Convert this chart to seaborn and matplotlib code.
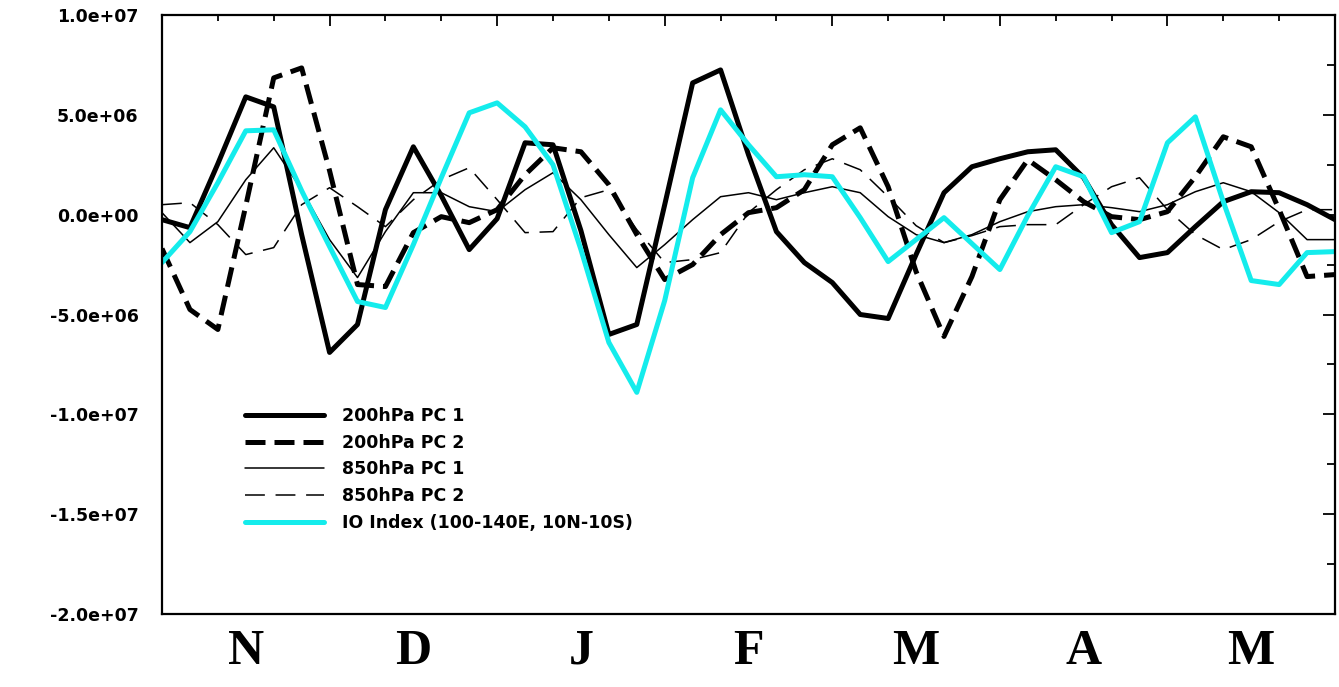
import numpy as np
import pandas as pd
import seaborn as sns
import matplotlib.pyplot as plt
from matplotlib.ticker import FuncFormatter, MultipleLocator
import matplotlib.transforms as mtransforms

# pentad index (6 per month, Nov -> May)
pentad = np.arange(43)
months = ["N", "D", "J", "F", "M", "A", "M"]

# values in units of 1e6
pc1_200 = [-0.25, -0.65, 2.55, 5.9, 5.4, -1.0, -6.9, -5.5, 0.25, 3.4, 0.95, -1.75, -0.2,
           3.6, 3.5, -0.8, -6.0, -5.5, 0.5, 6.6, 7.25, 3.0, -0.85, -2.4, -3.4, -5.0, -5.2,
           -2.0, 1.1, 2.4, 2.8, 3.15, 3.25, 1.85, -0.5, -2.15, -1.9, -0.6, 0.65, 1.15, 1.1,
           0.5, -0.25]
pc2_200 = [-1.7, -4.75, -5.75, 0.45, 6.85, 7.35, 2.2, -3.5, -3.6, -0.9, -0.1, -0.4, 0.25,
           2.0, 3.35, 3.15, 1.5, -1.0, -3.25, -2.5, -1.0, 0.1, 0.35, 1.25, 3.5, 4.35, 1.4,
           -2.85, -6.1, -3.1, 0.75, 2.75, 1.75, 0.65, -0.1, -0.25, 0.15, 1.9, 3.9, 3.4, 0.25,
           -3.1, -3.0]
pc1_850 = [0.1, -1.4, -0.35, 1.75, 3.35, 1.25, -1.25, -3.15, -0.85, 1.1, 1.1, 0.4, 0.15,
           1.25, 2.1, 0.75, -1.0, -2.65, -1.5, -0.25, 0.9, 1.1, 0.75, 1.1, 1.4, 1.1, -0.1,
           -1.0, -1.4, -1.0, -0.35, 0.15, 0.4, 0.5, 0.35, 0.15, 0.5, 1.15, 1.6, 1.15, 0.1,
           -1.25, -1.25]
pc2_850 = [0.5, 0.6, -0.5, -2.0, -1.65, 0.5, 1.35, 0.4, -0.6, 0.75, 1.75, 2.35, 0.75,
           -0.9, -0.85, 0.85, 1.25, -0.75, -2.4, -2.25, -1.9, 0.1, 1.25, 2.25, 2.8, 2.25, 0.9,
           -0.55, -1.4, -1.05, -0.6, -0.5, -0.5, 0.5, 1.4, 1.85, 0.25, -1.0, -1.75, -1.25,
           -0.35, 0.25, 0.25]
io_index = [-2.4, -0.85, 1.6, 4.2, 4.25, 1.2, -1.6, -4.35, -4.65, -1.5, 1.85, 5.1, 5.6,
            4.4, 2.5, -1.75, -6.4, -8.9, -4.3, 1.85, 5.25, 3.5, 1.9, 2.0, 1.9, -0.15, -2.35,
            -1.25, -0.15, -1.45, -2.75, -0.05, 2.4, 1.9, -0.9, -0.35, 3.6, 4.9, 0.65, -3.3,
            -3.5, -1.9, -1.85]

df = pd.DataFrame({
    "pentad": pentad,
    "200hPa PC 1": np.array(pc1_200) * 1e6,
    "200hPa PC 2": np.array(pc2_200) * 1e6,
    "850hPa PC 1": np.array(pc1_850) * 1e6,
    "850hPa PC 2": np.array(pc2_850) * 1e6,
    "IO Index (100-140E, 10N-10S)": np.array(io_index) * 1e6,
})

sns.set_style("white")
plt.rcParams["text.color"] = "black"
plt.rcParams["xtick.color"] = "black"
plt.rcParams["ytick.color"] = "black"

fig = plt.figure(figsize=(13.39, 6.87), dpi=100)
ax = fig.add_axes([162 / 1339, 1 - 614 / 687, (1335 - 162) / 1339, (614 - 15) / 687])

styles = [
    ("200hPa PC 1", "black", 3.6, "-"),
    ("200hPa PC 2", "black", 3.6, (0, (4, 1.8))),
    ("850hPa PC 1", "black", 1.1, "-"),
    ("850hPa PC 2", "black", 1.1, (0, (13, 7))),
    ("IO Index (100-140E, 10N-10S)", "#14ecec", 3.6, "-"),
]
for name, col, lw, ls in styles:
    sns.lineplot(data=df, x="pentad", y=name, ax=ax, color=col, linewidth=lw,
                 linestyle=ls, label=name)

ax.set_xlim(0, 42)
ax.set_ylim(-2e7, 1e7)
ax.set_xlabel("")
ax.set_ylabel("")

ax.yaxis.set_major_locator(MultipleLocator(5e6))
ax.yaxis.set_minor_locator(MultipleLocator(2.5e6))
ax.yaxis.set_major_formatter(FuncFormatter(lambda v, p: f"{v:.1e}"))
ax.xaxis.set_major_locator(MultipleLocator(6))
ax.xaxis.set_minor_locator(MultipleLocator(2))
ax.xaxis.set_major_formatter(FuncFormatter(lambda v, p: ""))

ax.tick_params(axis="both", which="both", direction="in", top=True, right=True,
               color="black", width=1.3, labelcolor="black")
ax.tick_params(axis="y", which="major", length=9, pad=17, labelsize=12.5)
ax.tick_params(axis="y", which="minor", length=6)
ax.tick_params(axis="x", which="major", length=8)
ax.tick_params(axis="x", which="minor", length=4)
for lab in ax.get_yticklabels():
    lab.set_fontweight("bold")

for sp in ax.spines.values():
    sp.set_color("black")
    sp.set_linewidth(1.6)

trans = mtransforms.blended_transform_factory(ax.transData, ax.transAxes)
for i, m in enumerate(months):
    ax.text(3 + 6 * i, -0.025, m, transform=trans, ha="center", va="top",
            fontsize=36, fontweight="bold", family="Liberation Serif", color="black")

leg = ax.legend(loc="upper left", bbox_to_anchor=(0.063, 0.36), frameon=False,
                handlelength=4.6, handletextpad=1.0, labelspacing=0.5, borderpad=0,
                prop={"weight": "bold", "size": 12.5})
for t in leg.get_texts():
    t.set_color("black")

fig.savefig("out.png", dpi=100, facecolor="white")
